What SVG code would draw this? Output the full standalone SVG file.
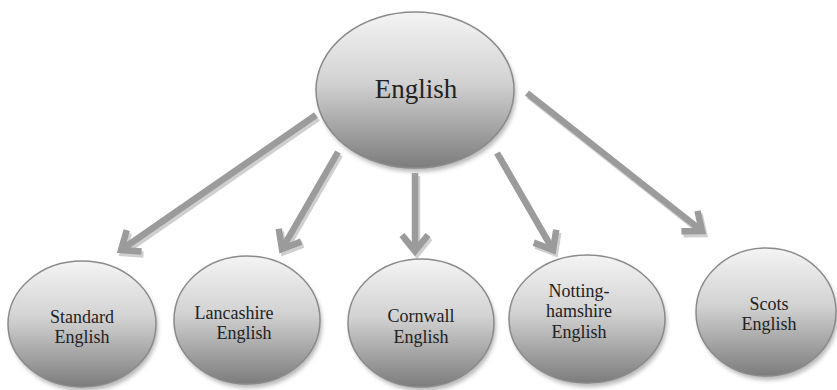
<svg xmlns="http://www.w3.org/2000/svg" width="837" height="390" viewBox="0 0 837 390">
<style>
.node-shape{fill:url(#g);stroke:#8a8a8a;stroke-width:1.5}
.shadow{fill:#b8b8b8;filter:url(#blur)}
.lbl{font-family:"Liberation Serif","DejaVu Serif",serif;font-size:18px;fill:#222;text-anchor:middle}
.big{font-size:27px}
.conn{fill:none;stroke:#9b9b9b;stroke-width:6.5;marker-end:url(#ah)}
.conn-sh{fill:none;stroke:#cfcfcf;stroke-width:6.5;marker-end:url(#ahs)}
</style>
<defs>
<linearGradient id="g" x1="0" y1="0" x2="0" y2="1">
<stop offset="0" stop-color="#f4f4f4"/>
<stop offset="0.45" stop-color="#d2d2d2"/>
<stop offset="1" stop-color="#7c7c7c"/>
</linearGradient>
<filter id="blur" x="-20%" y="-20%" width="140%" height="140%"><feGaussianBlur stdDeviation="2"/></filter>
<marker id="ah" markerUnits="userSpaceOnUse" markerWidth="40" markerHeight="40" viewBox="-30 -20 40 40" refX="0" refY="0" orient="auto">
<path d="M-16,-13 L0,0 L-16,13" fill="none" stroke="#9b9b9b" stroke-width="6.5"/>
</marker>
<marker id="ahs" markerUnits="userSpaceOnUse" markerWidth="40" markerHeight="40" viewBox="-30 -20 40 40" refX="0" refY="0" orient="auto">
<path d="M-16,-13 L0,0 L-16,13" fill="none" stroke="#cfcfcf" stroke-width="6.5"/>
</marker>
</defs>
<g id="connectors">
<g transform="translate(2,3)">
<path class="conn-sh" d="M316,115 L121,250"/>
<path class="conn-sh" d="M338,152 L282,249"/>
<path class="conn-sh" d="M415,173 L415,251"/>
<path class="conn-sh" d="M497,153 L553,250"/>
<path class="conn-sh" d="M527,93 L702,231"/>
</g>
<path class="conn" d="M316,115 L121,250"/>
<path class="conn" d="M338,152 L282,249"/>
<path class="conn" d="M415,173 L415,251"/>
<path class="conn" d="M497,153 L553,250"/>
<path class="conn" d="M527,93 L702,231"/>
</g>
<g id="english">
<ellipse class="shadow" cx="417" cy="94" rx="99" ry="78"/>
<ellipse class="node-shape" cx="415" cy="90" rx="99" ry="78"/>
<text class="lbl big" x="416" y="98">English</text>
</g>
<g id="standard">
<ellipse class="shadow" cx="84" cy="328" rx="74" ry="63"/>
<ellipse class="node-shape" cx="82" cy="324" rx="74" ry="63"/>
<text class="lbl" x="82" y="323">Standard</text>
<text class="lbl" x="82" y="343">English</text>
</g>
<g id="lancashire">
<ellipse class="shadow" cx="249" cy="324" rx="73" ry="64"/>
<ellipse class="node-shape" cx="247" cy="320" rx="73" ry="64"/>
<text class="lbl" x="234" y="319">Lancashire</text>
<text class="lbl" x="244" y="339">English</text>
</g>
<g id="cornwall">
<ellipse class="shadow" cx="423" cy="327" rx="73" ry="64"/>
<ellipse class="node-shape" cx="421" cy="323" rx="73" ry="64"/>
<text class="lbl" x="421" y="322">Cornwall</text>
<text class="lbl" x="421" y="343">English</text>
</g>
<g id="nottinghamshire">
<ellipse class="shadow" cx="589" cy="323" rx="78" ry="64"/>
<ellipse class="node-shape" cx="587" cy="319" rx="78" ry="64"/>
<text class="lbl" x="579" y="297">Notting-</text>
<text class="lbl" x="579" y="317">hamshire</text>
<text class="lbl" x="579" y="338">English</text>
</g>
<g id="scots">
<ellipse class="shadow" cx="768" cy="316" rx="70" ry="64"/>
<ellipse class="node-shape" cx="766" cy="312" rx="70" ry="64"/>
<text class="lbl" x="769" y="310">Scots</text>
<text class="lbl" x="769" y="330">English</text>
</g>
</svg>
